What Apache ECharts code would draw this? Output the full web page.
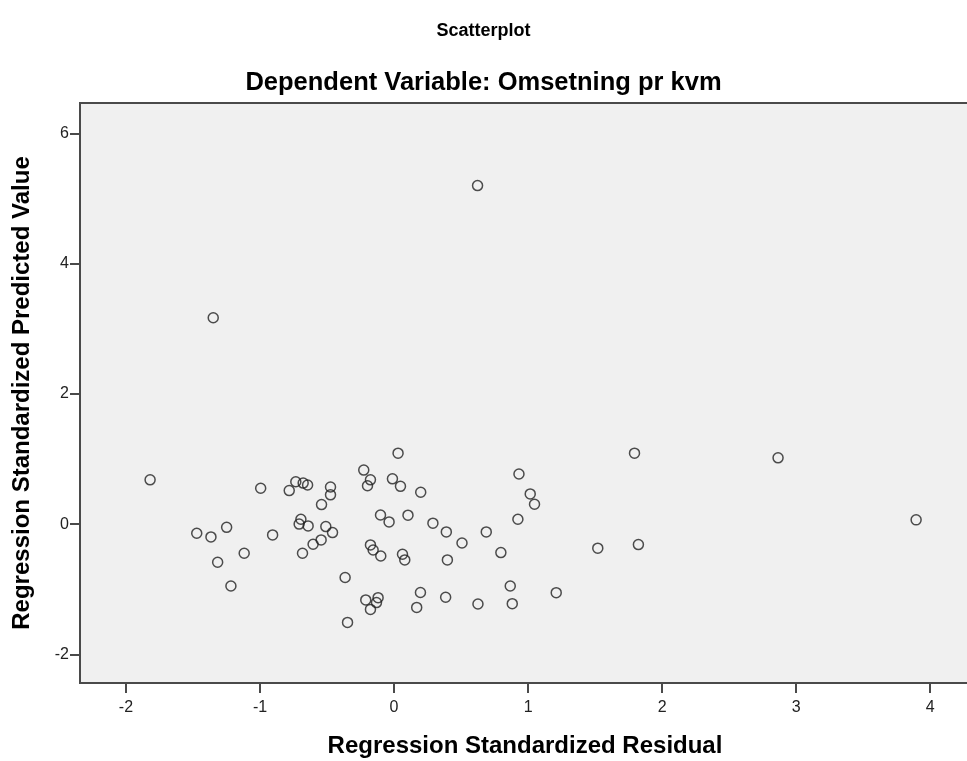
<!DOCTYPE html>
<html>
<head>
<meta charset="utf-8">
<script src="https://cdn.jsdelivr.net/npm/echarts@6/dist/echarts.min.js"></script>
<style>html,body{margin:0;padding:0;background:#fff}#c{width:967px;height:761px}</style>
</head>
<body>
<div id="c"></div>
<script>
const titleMain = "Scatterplot";
const titleSub = "Dependent Variable: Omsetning pr kvm";
const xName = "Regression Standardized Residual";
const yName = "Regression Standardized Predicted Value";
const xTicks = [-2, -1, 0, 1, 2, 3, 4];
const yTicks = [-2, 0, 2, 4, 6];
const residuals = [-1.82,-0.995,-0.733,-0.782,-0.678,-0.645,-0.474,-0.474,-0.541,-0.226,-0.176,-0.198,0.03,-0.012,0.048,0.199,-0.101,-0.037,0.104,-1.472,-1.366,-1.249,-1.316,-1.118,-1.217,-0.906,-0.695,-0.708,-0.641,-0.509,-0.459,-0.544,-0.604,-0.683,-0.365,-0.347,-0.176,-0.156,-0.099,0.063,0.08,-0.211,-0.119,-0.131,-0.176,0.197,0.169,0.29,0.39,0.507,0.688,0.797,0.932,1.016,1.048,0.924,1.794,1.52,1.823,0.398,0.385,0.626,0.867,0.882,1.21,-1.349,0.623,2.865,3.895];
const predicted = [0.68,0.55,0.65,0.515,0.63,0.60,0.57,0.45,0.30,0.83,0.68,0.59,1.09,0.695,0.58,0.49,0.14,0.034,0.137,-0.14,-0.197,-0.05,-0.586,-0.448,-0.95,-0.166,0.075,0.0,-0.028,-0.038,-0.13,-0.243,-0.31,-0.448,-0.82,-1.51,-0.32,-0.397,-0.49,-0.463,-0.55,-1.165,-1.13,-1.206,-1.31,-1.05,-1.28,0.014,-0.12,-0.29,-0.12,-0.438,0.77,0.464,0.305,0.075,1.09,-0.37,-0.315,-0.55,-1.124,-1.227,-0.95,-1.222,-1.053,3.17,5.2,1.018,0.065];

const font = 'Arial, "Liberation Sans", sans-serif';
const chart = echarts.init(document.getElementById('c'), null, {renderer: 'canvas'});
chart.setOption({
  animation: false,
  backgroundColor: '#ffffff',
  title: [
    {text: titleMain, left: 'center', top: 22, padding: 0, textStyle: {fontFamily: font, fontSize: 18, fontWeight: 'bold', color: '#000'}},
    {text: titleSub, left: 'center', top: 70, padding: 0, textStyle: {fontFamily: font, fontSize: 25.5, fontWeight: 'bold', color: '#000'}}
  ],
  grid: {left: 80, top: 103, right: -3, bottom: 78, outerBoundsMode: 'none', containLabel: false, show: true, backgroundColor: '#f0f0f0', borderColor: '#4a4a4a', borderWidth: 2},
  xAxis: {
    type: 'value', min: -2.343, max: 4.297,
    name: xName, nameLocation: 'middle', nameGap: 51,
    nameTextStyle: {fontFamily: font, fontSize: 24, fontWeight: 'bold', color: '#000'},
    axisLine: {show: true, onZero: false, lineStyle: {color: '#4a4a4a', width: 2}},
    axisTick: {show: true, length: 10, customValues: xTicks, lineStyle: {color: '#4a4a4a', width: 2}},
    axisLabel: {customValues: xTicks, fontFamily: font, fontSize: 16, color: '#222', margin: 17},
    splitLine: {show: false}
  },
  yAxis: {
    type: 'value', min: -2.441, max: 6.469,
    name: yName, nameLocation: 'middle', nameGap: 46,
    nameTextStyle: {fontFamily: font, fontSize: 24, fontWeight: 'bold', color: '#000'},
    axisLine: {show: true, onZero: false, lineStyle: {color: '#4a4a4a', width: 2}},
    axisTick: {show: true, length: 10, customValues: yTicks, lineStyle: {color: '#4a4a4a', width: 2}},
    axisLabel: {customValues: yTicks, fontFamily: font, fontSize: 16, color: '#222', margin: 11},
    splitLine: {show: false}
  },
  series: [{
    type: 'scatter',
    data: residuals.map((x, i) => [x, predicted[i]]),
    symbol: 'circle', symbolSize: 10,
    itemStyle: {color: 'rgba(0,0,0,0)', borderColor: '#222', borderWidth: 1.5}
  }]
});
</script>
</body>
</html>
